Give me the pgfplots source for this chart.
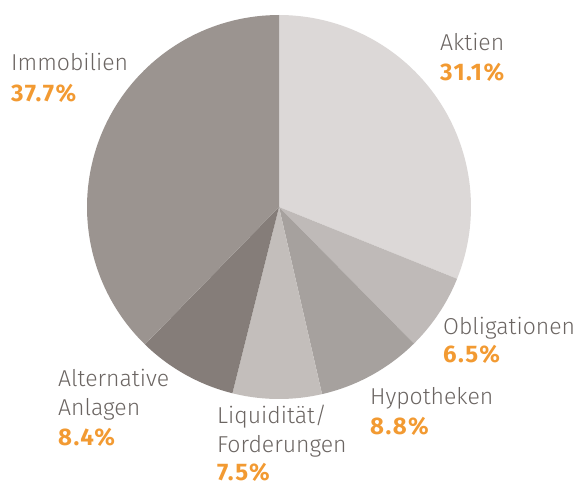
\documentclass[border=0pt]{standalone}
\usepackage{pgfplots}
\pgfplotsset{compat=1.18}
\usepackage{fontspec}
\setmainfont{Fira Sans}[UprightFont=* Light, BoldFont=* Bold, BoldFeatures={LetterSpace=6}]
\definecolor{cAkt}{HTML}{DCD8D7}
\definecolor{cObl}{HTML}{BFBAB8}
\definecolor{cHyp}{HTML}{A6A19E}
\definecolor{cLiq}{HTML}{C3BEBB}
\definecolor{cAlt}{HTML}{857D79}
\definecolor{cImm}{HTML}{9B9490}
\definecolor{txt}{HTML}{6B6562}
\definecolor{pct}{HTML}{F29A32}
% shares (%): Aktien 31.1, Obligationen 6.5, Hypotheken 8.8,
% Liquiditaet 7.5, Alternative Anlagen 8.4, Immobilien 37.7
% slice angles = 90 - 3.6 * cumulative share (clockwise from top)
\begin{document}
\begin{tikzpicture}
\begin{axis}[
  x=1pt, y=1pt,
  xmin=0, xmax=579, ymin=0, ymax=488,
  hide axis, clip=false,
  samples=80, variable=\t,
]
\path (axis cs:0,0) rectangle (axis cs:579,488);
\def\cx{279}\def\cy{281}\def\r{192}
\addplot[fill=cAkt, draw=none, domain=-21.96:90] ({\cx+\r*cos(\t)},{\cy+\r*sin(\t)}) -- (axis cs:\cx,\cy) -- cycle;
\addplot[fill=cObl, draw=none, domain=-45.36:-21.96] ({\cx+\r*cos(\t)},{\cy+\r*sin(\t)}) -- (axis cs:\cx,\cy) -- cycle;
\addplot[fill=cHyp, draw=none, domain=-77.04:-45.36] ({\cx+\r*cos(\t)},{\cy+\r*sin(\t)}) -- (axis cs:\cx,\cy) -- cycle;
\addplot[fill=cLiq, draw=none, domain=-104.04:-77.04] ({\cx+\r*cos(\t)},{\cy+\r*sin(\t)}) -- (axis cs:\cx,\cy) -- cycle;
\addplot[fill=cAlt, draw=none, domain=-134.28:-104.04] ({\cx+\r*cos(\t)},{\cy+\r*sin(\t)}) -- (axis cs:\cx,\cy) -- cycle;
\addplot[fill=cImm, draw=none, domain=-270:-134.28] ({\cx+\r*cos(\t)},{\cy+\r*sin(\t)}) -- (axis cs:\cx,\cy) -- cycle;

\tikzset{lab/.style={anchor=base west, inner sep=0pt, text=txt, font=\fontsize{23}{27}\selectfont},
         pc/.style={anchor=base west, inner sep=0pt, text=pct, font=\fontsize{24}{27}\selectfont\bfseries}}
\node[lab] at (axis cs:11,417) {Immobilien};
\node[pc]  at (axis cs:11,386) {37.7\%};
\node[lab] at (axis cs:440,437) {Aktien};
\node[pc]  at (axis cs:440,407) {31.1\%};
\node[lab] at (axis cs:443,153) {Obligationen};
\node[pc]  at (axis cs:443,125) {6.5\%};
\node[lab] at (axis cs:370,84) {Hypotheken};
\node[pc]  at (axis cs:370,54) {8.8\%};
\node[lab] at (axis cs:217,65) {Liquidität/};
\node[lab] at (axis cs:217,36) {Forderungen};
\node[pc]  at (axis cs:217,8) {7.5\%};
\node[lab] at (axis cs:58,102) {Alternative};
\node[lab] at (axis cs:58,72) {Anlagen};
\node[pc]  at (axis cs:58,43) {8.4\%};
\end{axis}
\end{tikzpicture}
\end{document}
